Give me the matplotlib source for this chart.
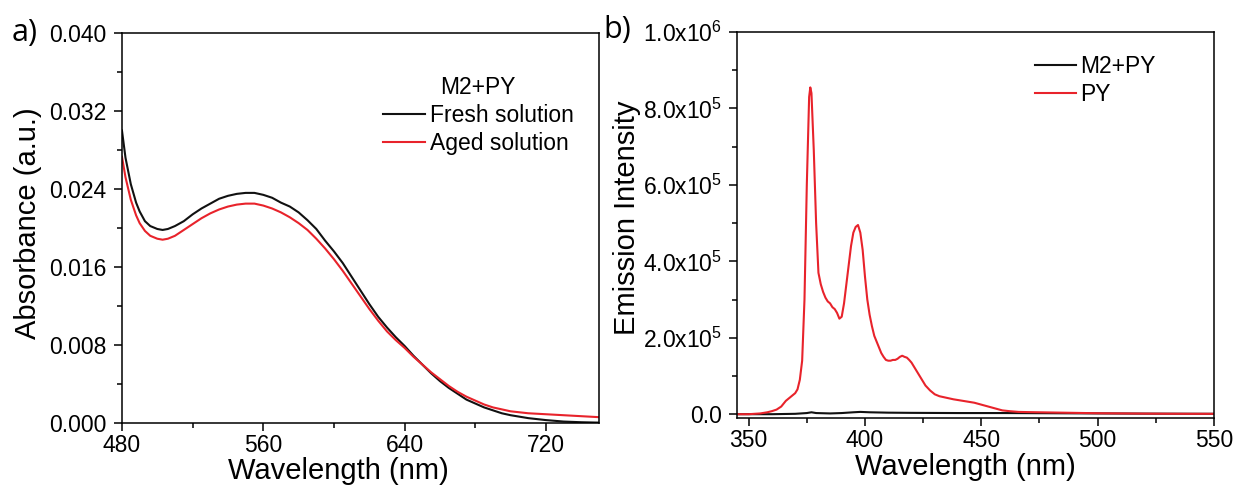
import matplotlib
matplotlib.use("Agg")
import matplotlib.pyplot as plt
from matplotlib.ticker import MultipleLocator, FuncFormatter

plt.rcParams["font.family"] = ["Liberation Sans", "DejaVu Sans"]
plt.rcParams["mathtext.fontset"] = "custom"
plt.rcParams["mathtext.rm"] = "Liberation Sans"
plt.rcParams["mathtext.it"] = "Liberation Sans:italic"

# --- a) UV-vis absorbance of M2+PY, fresh vs aged ---
abs_wl = [480, 482, 485, 488, 490, 493, 496, 500, 503, 506, 510, 515, 520, 525,
          530, 535, 540, 545, 550, 555, 560, 565, 570, 575, 580, 585, 590, 595,
          600, 605, 610, 615, 620, 625, 630, 635, 640, 645, 650, 655, 660, 665,
          670, 675, 680, 685, 690, 695, 700, 710, 720, 730, 740, 750]
abs_fresh = [0.0300, 0.0272, 0.0245, 0.0226, 0.0217, 0.0207, 0.0202, 0.0199,
             0.0198, 0.0199, 0.0202, 0.0207, 0.0214, 0.0220, 0.0225, 0.0230,
             0.0233, 0.0235, 0.0236, 0.0236, 0.0234, 0.0231, 0.0226, 0.0222,
             0.0216, 0.0208, 0.0199, 0.0187, 0.0176, 0.0164, 0.0150, 0.0136,
             0.0122, 0.0109, 0.0098, 0.0088, 0.0079, 0.0069, 0.0060, 0.0051,
             0.0043, 0.0036, 0.0030, 0.0024, 0.0020, 0.0016, 0.0013, 0.0010,
             0.0008, 0.0005, 0.0003, 0.00015, 0.00008, 0.00004]
abs_aged = [0.0273, 0.0252, 0.0229, 0.0213, 0.0205, 0.0197, 0.0192, 0.0189,
            0.0188, 0.0189, 0.0192, 0.0198, 0.0204, 0.0210, 0.0215, 0.0219,
            0.0222, 0.0224, 0.0225, 0.0225, 0.0223, 0.0220, 0.0216, 0.0211,
            0.0205, 0.0198, 0.0189, 0.0179, 0.0168, 0.0156, 0.0143, 0.0130,
            0.0117, 0.0105, 0.0094, 0.0085, 0.0077, 0.0068, 0.0060, 0.0052,
            0.0045, 0.0038, 0.0032, 0.0027, 0.0023, 0.0019, 0.0016, 0.0014,
            0.0012, 0.0010, 0.0009, 0.0008, 0.0007, 0.0006]

# --- b) emission spectra, intensity in units of 1e5 ---
py_wl = [345, 350, 355, 358, 360, 362, 364, 366, 368, 370, 371, 372, 373, 374,
         375, 376, 376.5, 377, 378, 379, 380, 381, 382, 383, 384, 385, 386,
         387, 388, 389, 390, 391, 392, 393, 394, 395, 396, 397, 398, 399, 400,
         401, 402, 403, 404, 405, 406, 407, 408, 409, 410, 411, 412, 413, 414,
         415, 416, 417, 418, 419, 420, 421, 422, 423, 424, 425, 426, 428, 430,
         432, 435, 438, 441, 444, 447, 450, 453, 456, 459, 462, 466, 470, 480,
         490, 500, 510, 520, 530, 540, 550]
py_int = [0.0, 0.0, 0.02, 0.05, 0.08, 0.12, 0.2, 0.35, 0.45, 0.55, 0.65, 0.9,
          1.4, 3.0, 6.0, 8.3, 8.55, 8.4, 6.9, 5.0, 3.7, 3.4, 3.2, 3.05, 2.95,
          2.9, 2.8, 2.75, 2.65, 2.5, 2.55, 2.9, 3.4, 3.9, 4.4, 4.75, 4.9, 4.95,
          4.75, 4.3, 3.6, 3.0, 2.6, 2.3, 2.05, 1.9, 1.75, 1.6, 1.5, 1.42, 1.4,
          1.4, 1.42, 1.42, 1.45, 1.5, 1.53, 1.5, 1.48, 1.42, 1.35, 1.25, 1.15,
          1.05, 0.95, 0.85, 0.75, 0.62, 0.52, 0.47, 0.43, 0.39, 0.36, 0.33, 0.3,
          0.25, 0.2, 0.15, 0.1, 0.08, 0.06, 0.055, 0.045, 0.035, 0.025, 0.02,
          0.015, 0.012, 0.01, 0.01]
mix_wl = [345, 360, 370, 375, 377, 379, 385, 390, 395, 398, 402, 410, 420, 440,
          460, 480, 500, 520, 550]
mix_int = [0.0, 0.0, 0.01, 0.03, 0.05, 0.03, 0.02, 0.03, 0.05, 0.06, 0.05,
           0.04, 0.035, 0.03, 0.03, 0.025, 0.02, 0.015, 0.01]
EM_SCALE = 1e5

RED = "#e8232b"
BLACK = "#111111"
TICK_FS = 16.5
LEGEND_FS = 16.5
LABEL_FS = 21


def style_axes(ax):
    for s in ax.spines.values():
        s.set_linewidth(1.1)
    ax.tick_params(which="both", direction="out", top=False, right=False,
                   width=1.1, labelsize=TICK_FS)
    ax.tick_params(which="major", length=6)
    ax.tick_params(which="minor", length=3.5)
    ax.tick_params(axis="y", pad=5)
    ax.tick_params(axis="x", pad=2)


def sci_label(v, pos):
    if abs(v) < 1:
        return "0.0"
    exp = len(str(int(round(v)))) - 1
    mant = v / 10 ** exp
    return r"$\mathrm{%.1fx10^{%d}}$" % (mant, exp)


fig = plt.figure(figsize=(12.37, 4.9), dpi=100)

# panel a
ax = fig.add_axes([0.0986, 0.1367, 0.3856, 0.7960])
ax.plot(abs_wl, abs_fresh, color=BLACK, lw=1.5, label="Fresh solution")
ax.plot(abs_wl, abs_aged, color=RED, lw=1.5, label="Aged solution")
ax.set_xlim(480, 750)
ax.set_ylim(0, 0.040)
ax.xaxis.set_major_locator(MultipleLocator(80))
ax.xaxis.set_minor_locator(MultipleLocator(40))
ax.yaxis.set_major_locator(MultipleLocator(0.008))
ax.yaxis.set_minor_locator(MultipleLocator(0.004))
ax.yaxis.set_major_formatter(FuncFormatter(lambda v, p: f"{v:.3f}"))
style_axes(ax)
ax.set_xlabel("Wavelength (nm)", fontsize=LABEL_FS)
ax.set_ylabel("Absorbance (a.u.)", fontsize=LABEL_FS)
ax.xaxis.set_label_coords(0.453, -0.124)
ax.xaxis.label.set_verticalalignment("center")
ax.yaxis.set_label_coords(-0.197, 0.513)
ax.yaxis.label.set_verticalalignment("center")
ax.legend(title="M2+PY", loc="upper left", bbox_to_anchor=(0.547, 0.89),
          frameon=False, fontsize=LEGEND_FS, title_fontsize=LEGEND_FS,
          handlelength=1.85, handletextpad=0.2, labelspacing=0.22,
          borderpad=0, borderaxespad=0)

# panel b
bx = fig.add_axes([0.5958, 0.1469, 0.3856, 0.7878])
bx.plot(mix_wl, [v * EM_SCALE for v in mix_int], color=BLACK, lw=1.5,
        label="M2+PY")
bx.plot(py_wl, [v * EM_SCALE for v in py_int], color=RED, lw=1.5, label="PY")
bx.set_xlim(345, 550)
bx.set_ylim(-1e4, 1.0e6)
bx.xaxis.set_major_locator(MultipleLocator(50))
bx.xaxis.set_minor_locator(MultipleLocator(25))
bx.yaxis.set_major_locator(MultipleLocator(2e5))
bx.yaxis.set_minor_locator(MultipleLocator(1e5))
bx.yaxis.set_major_formatter(FuncFormatter(sci_label))
style_axes(bx)
bx.set_xlabel("Wavelength (nm)", fontsize=LABEL_FS)
bx.set_ylabel("Emission Intensity", fontsize=LABEL_FS)
bx.xaxis.set_label_coords(0.478, -0.126)
bx.xaxis.label.set_verticalalignment("center")
bx.yaxis.set_label_coords(-0.231, 0.52)
bx.yaxis.label.set_verticalalignment("center")
bx.legend(loc="upper left", bbox_to_anchor=(0.625, 0.94), frameon=False,
          fontsize=LEGEND_FS, handlelength=1.8, handletextpad=0.15,
          labelspacing=0.22, borderpad=0, borderaxespad=0)

# panel tags
fig.text(0.009, 0.932, "a)", fontsize=22, va="center", ha="left",
         family=["Open Sans", "DejaVu Sans"])
fig.text(0.488, 0.938, "b)", fontsize=22, va="center", ha="left",
         family=["Open Sans", "DejaVu Sans"])

fig.savefig("out.png", dpi=100)
